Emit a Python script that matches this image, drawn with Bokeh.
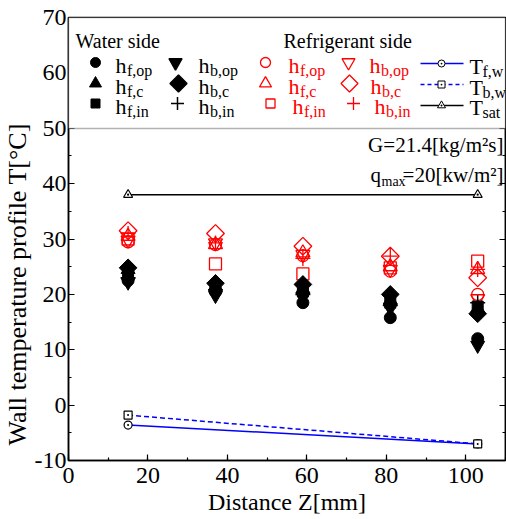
import math
from bokeh.plotting import figure
from bokeh.models import Label, BoxAnnotation, SingleIntervalTicker, LinearAxis, Range1d, Title
from bokeh.embed import file_html
from bokeh.resources import INLINE

# ---------------- data ----------------
z = [15, 37, 59, 81, 103]

# Water side (filled black)
w_hf_op = [22.5, 20.5, 18.5, 15.8, 12.0]
w_hf_c = [24.5, 21.5, 21.0, 19.0, 17.5]
w_hf_in = [23.5, 21.0, 20.5, 18.5, 17.8]
w_hb_op = [22.2, 19.8, 19.5, 17.5, 10.8]
w_hb_c = [24.8, 22.0, 21.8, 20.0, 16.5]
w_hb_in = [23.0, 20.8, 20.0, 18.0, 18.5]

# Refrigerant side (open red)
r_hf_op = [29.5, 29.0, 27.0, 24.2, 20.0]
r_hf_c = [30.5, 29.0, 27.5, 25.0, 24.5]
r_hf_in = [30.0, 25.5, 23.7, 24.8, 26.0]
r_hb_op = [29.8, 29.3, 27.2, 24.5, 19.2]
r_hb_c = [31.5, 31.0, 28.7, 26.9, 23.0]
r_hb_in = [31.0, 29.3, 26.5, 26.9, 24.5]

# Temperature lines
z_line = [15, 103]
t_fw = [-3.6, -7.0]
t_bw = [-1.8, -7.0]
t_sat = [38.0, 38.0]

x_ticks_interval = 20
y_ticks_interval = 10
y_tick_overrides = {-10: "-10"}

FONT = "Liberation Serif"
RED = "#ff0000"

# frame geometry (pixels) used for placing the hand-made legend / labels
FL, FR, FT, FB = 68, 505, 17, 460
XMIN, XMAX, YMIN, YMAX = 0, 110, -10, 70
BIAS = 0.37  # baseline correction (fraction of font size)


def dx(px):
    return XMIN + (px - FL) / (FR - FL) * (XMAX - XMIN)


def dy(py):
    return YMAX - (py - FT) / (FB - FT) * (YMAX - YMIN)


p = figure(width=506, height=519, output_backend="svg", toolbar_location=None,
           x_range=Range1d(XMIN, XMAX), y_range=Range1d(YMIN, YMAX),
           min_border_left=FL, min_border_right=1, min_border_top=FT,
           min_border_bottom=519 - FB)
p.grid.visible = False
p.outline_line_color = "black"
p.outline_line_width = 1.5
p.background_fill_color = "white"
p.border_fill_color = "white"

for ax in (p.xaxis[0], p.yaxis[0]):
    ax.major_tick_in = 6
    ax.major_tick_out = 0
    ax.minor_tick_in = 3
    ax.minor_tick_out = 0
    ax.axis_line_width = 1.5
    ax.major_tick_line_width = 1.2
    ax.minor_tick_line_width = 1.2
    ax.major_label_text_font = FONT
    ax.major_label_text_font_size = "24px"
    ax.major_label_text_color = "black"

p.xaxis[0].ticker = SingleIntervalTicker(interval=x_ticks_interval, num_minor_ticks=2)
p.yaxis[0].ticker = SingleIntervalTicker(interval=y_ticks_interval, num_minor_ticks=2)
p.yaxis[0].major_label_overrides = y_tick_overrides
p.xaxis[0].major_label_standoff = 7
p.yaxis[0].major_label_standoff = 2
p.yaxis[0].axis_label_standoff = 0
p.xaxis[0].axis_label = "Distance Z[mm]"
p.xaxis[0].axis_label_text_font = FONT
p.xaxis[0].axis_label_text_font_size = "24px"
p.xaxis[0].axis_label_text_font_style = "normal"
p.xaxis[0].axis_label_text_color = "black"
p.xaxis[0].axis_label_standoff = 3

p.add_layout(Title(text="Wall temperature profile T[°C]", align="left", offset=15,
                   text_font=FONT, text_font_size="26px", text_font_style="normal",
                   text_color="black", standoff=0), "left")

rax = LinearAxis(ticker=SingleIntervalTicker(interval=y_ticks_interval, num_minor_ticks=2),
                 major_tick_in=6, major_tick_out=0, minor_tick_in=3, minor_tick_out=0,
                 major_label_text_font_size="0px", axis_line_width=1.5,
                 major_tick_line_width=1.2, minor_tick_line_width=1.2,
                 major_label_standoff=0, axis_label_standoff=0)
p.add_layout(rax, "right")


def lab(px, py, text, size, color="black", align="left"):
    p.add_layout(Label(x=dx(px), y=dy(py - BIAS * size), text=text, text_font=FONT,
                       text_font_size=f"{size}px", text_color=color,
                       text_baseline="alphabetic", text_align=align, level="overlay"))


# ---------------- lines ----------------
p.line(z_line, t_sat, line_color="black", line_width=1.5)
p.scatter(z_line, t_sat, marker="triangle_dot", size=9, line_color="black",
          fill_color="white", line_width=1.2)
p.line(z_line, t_fw, line_color="blue", line_width=1.5)
p.line(z_line, t_bw, line_color="blue", line_width=1.5, line_dash="5 3")
p.scatter(z_line, t_fw, marker="circle_dot", size=8, line_color="black",
          fill_color="white", line_width=1.2)
p.scatter(z_line, t_bw, marker="square_dot", size=8, line_color="black",
          fill_color="white", line_width=1.2)

# ---------------- refrigerant side (open red) ----------------
D = math.pi / 4
p.scatter(z, r_hb_c, marker="square", angle=D, size=12.5, line_color=RED, fill_alpha=0, line_width=1.3)
p.scatter(z, r_hf_in, marker="square", size=12, line_color=RED, fill_alpha=0, line_width=1.3)
p.scatter(z, r_hf_op, marker="circle", size=12, line_color=RED, fill_alpha=0, line_width=1.3)
p.scatter(z, r_hf_c, marker="triangle", size=14, line_color=RED, fill_alpha=0, line_width=1.3)
p.scatter(z, r_hb_op, marker="inverted_triangle", size=14, line_color=RED, fill_alpha=0, line_width=1.3)
p.scatter(z, r_hb_in, marker="cross", size=15, line_color=RED, line_width=1.3)

# ---------------- water side (filled black) ----------------
p.scatter(z, w_hb_c, marker="square", angle=D, size=12.5, color="black")
p.scatter(z, w_hf_c, marker="triangle", size=14, color="black")
p.scatter(z, w_hf_in, marker="square", size=11, color="black")
p.scatter(z, w_hf_op, marker="circle", size=12, color="black")
p.scatter(z, w_hb_op, marker="inverted_triangle", size=14, color="black")
p.scatter(z, w_hb_in, marker="cross", size=15, line_color="black", line_width=1.5)

# ---------------- legend box ----------------
p.add_layout(BoxAnnotation(left=XMIN, right=XMAX, bottom=dy(128), top=YMAX,
                           fill_color="white", fill_alpha=1.0,
                           line_color="black", line_width=1.5, level="annotation"))


def sublab(px, py, main, sub, color="black"):
    lab(px, py, main, 22, color)
    lab(px + 11.5, py + 3, sub, 16, color)


lab(75, 48, "Water side", 20)
lab(283, 48, "Refrigerant side", 20)

rows = [62, 83, 103]
base = [73, 94, 114]

leg_w = [("circle", 0, 95, 0, 10, "f,op"), ("triangle", 0, 95, 1, 12, "f,c"), ("square", 0, 95, 2, 9, "f,in")]
leg_w2 = [("inverted_triangle", 0, 175, 0, 13, "b,op"), ("square", D, 178, 1, 12, "b,c"), ("cross", 0, 177, 2, 13, "b,in")]
for m, a, x, r, s, sub in leg_w:
    p.scatter([dx(x)], [dy(rows[r])], marker=m, angle=a, size=s, color="black", level="overlay")
    sublab(115, base[r], "h", sub)
for m, a, x, r, s, sub in leg_w2:
    p.scatter([dx(x)], [dy(rows[r])], marker=m, angle=a, size=s, line_color="black",
              fill_color="black", line_width=1.5, level="overlay")
    sublab(198, base[r], "h", sub)

leg_r = [("circle", 0, 265, 0, 10, "f,op", 288), ("triangle", 0, 265, 1, 12, "f,c", 288),
         ("square", 0, 270, 2, 9, "f,in", 292),
         ("inverted_triangle", 0, 348, 0, 13, "b,op", 369), ("square", D, 349, 1, 12, "b,c", 370),
         ("cross", 0, 353, 2, 13, "b,in", 374)]
for m, a, x, r, s, sub, tx in leg_r:
    p.scatter([dx(x)], [dy(rows[r])], marker=m, angle=a, size=s, line_color=RED,
              fill_alpha=0, line_width=1.3, level="overlay")
    sublab(tx, base[r], "h", sub, RED)

lrows = [63, 84, 105]
p.line([dx(420), dx(463)], [dy(lrows[0])] * 2, line_color="blue", line_width=1.5, level="overlay")
p.line([dx(420), dx(463)], [dy(lrows[1])] * 2, line_color="blue", line_width=1.5, line_dash="4 3", level="overlay")
p.line([dx(420), dx(463)], [dy(lrows[2])] * 2, line_color="black", line_width=1.5, level="overlay")
p.scatter([dx(441)], [dy(lrows[0])], marker="circle_dot", size=7, line_color="black", fill_color="white", level="overlay")
p.scatter([dx(441)], [dy(lrows[1])], marker="square_dot", size=7, line_color="black", fill_color="white", level="overlay")
p.scatter([dx(441)], [dy(lrows[2])], marker="triangle_dot", size=8, line_color="black", fill_color="white", level="overlay")
for r, sub in enumerate(["f,w", "b,w", "sat"]):
    lab(469, base[r] + 1, "T", 22)
    lab(482, base[r] + 4, sub, 16)

# ---------------- condition texts ----------------
lab(503, 152, "G=21.4[kg/m²s]", 21, align="right")
lab(370, 182, "q", 21)
lab(381, 186, "max", 14)
lab(503, 182, "=20[kw/m²]", 21, align="right")

open("out.html", "w").write(file_html(p, INLINE))
